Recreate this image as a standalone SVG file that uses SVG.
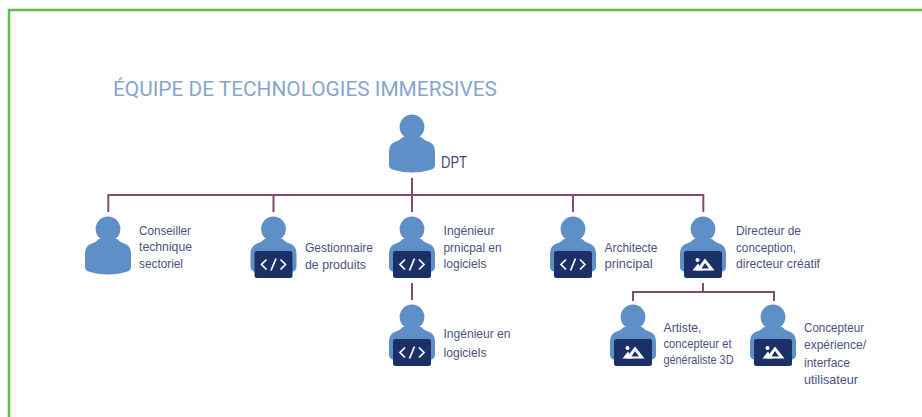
<svg xmlns="http://www.w3.org/2000/svg" width="922" height="417" viewBox="0 0 922 417">
<style>
.t{font-family:"Liberation Sans",Arial,sans-serif;font-size:13.500px;fill:#4a5280}
.d{font-family:"Liberation Sans",Arial,sans-serif;font-size:16px;fill:#414b70}
.c{fill:none;stroke:#86496f;stroke-width:2}
.p{fill:#5f8fc7}
.s{fill:#1c3068}
.g{fill:none;stroke:#fff;stroke-width:1.7}
.w{fill:#fff}
</style>
<defs>
<g id="person"><circle cx="0" cy="12" r="12.400" class="p"/><path class="p" d="M-9 22Q-12 25-15 26Q-23 28-23 37V50Q-23 54-18 55Q0 60 18 55Q23 54 23 50V37Q23 28 15 26Q12 25 9 22Z"/></g>
<g id="code"><use href="#person"/><rect x="-19" y="34" width="38" height="27" rx="2.500" class="s"/><path class="g" d="M-7 42.500L-12 47.500L-7 52.500M7 42.500L12 47.500L7 52.500M2.500 41.500L-2.500 53.500"/></g>
<g id="art"><use href="#person"/><rect x="-19" y="34" width="38" height="27" rx="2.500" class="s"/><path class="w" d="M2 41.500L11.500 53.500H-7Z"/><path d="M2 46L6 51.500H-1.500Z" class="s"/><path class="w" d="M-5 46.500L-0.500 53.500H-10.500Z"/><circle cx="-5.500" cy="43" r="2" class="w"/></g>
</defs>
<rect x="9" y="10" width="930" height="430" fill="#fff" stroke="#63bb4a" stroke-width="2.500"/>
<text x="113" y="96" font-family="Roboto,'Liberation Sans',sans-serif" font-size="20.500" fill="#86a6cd" textLength="384" lengthAdjust="spacingAndGlyphs">ÉQUIPE DE TECHNOLOGIES IMMERSIVES</text>
<g id="connectors">
<path class="c" d="M412 178V212M108.300 212V195H703.300V212M273.500 195V212M573 195V212M412 283V300M703 283V292M633 301V292H774V301"/>
</g>
<g id="n-dpt"><use href="#person" x="412" y="115"/><text class="d" x="441" y="168" textLength="26" lengthAdjust="spacingAndGlyphs">DPT</text></g>
<g id="n-conseiller"><use href="#person" x="108" y="217"/><text class="t" x="139" y="235" textLength="52" lengthAdjust="spacingAndGlyphs">Conseiller</text><text class="t" x="139" y="251" textLength="53" lengthAdjust="spacingAndGlyphs">technique</text><text class="t" x="139" y="268" textLength="44" lengthAdjust="spacingAndGlyphs">sectoriel</text></g>
<g id="n-gestion"><use href="#code" x="273.500" y="217"/><text class="t" x="305" y="252" textLength="68" lengthAdjust="spacingAndGlyphs">Gestionnaire</text><text class="t" x="305" y="269" textLength="61" lengthAdjust="spacingAndGlyphs">de produits</text></g>
<g id="n-principal"><use href="#code" x="412" y="217"/><text class="t" x="443.500" y="235" textLength="51" lengthAdjust="spacingAndGlyphs">Ingénieur</text><text class="t" x="443.500" y="252" textLength="58" lengthAdjust="spacingAndGlyphs">prnicpal en</text><text class="t" x="443.500" y="268" textLength="43" lengthAdjust="spacingAndGlyphs">logiciels</text></g>
<g id="n-ingenieur"><use href="#code" x="412" y="305"/><text class="t" x="443.500" y="338" textLength="67" lengthAdjust="spacingAndGlyphs">Ingénieur en</text><text class="t" x="443.500" y="357" textLength="43" lengthAdjust="spacingAndGlyphs">logiciels</text></g>
<g id="n-architecte"><use href="#code" x="573" y="217"/><text class="t" x="604.500" y="252" textLength="53" lengthAdjust="spacingAndGlyphs">Architecte</text><text class="t" x="604.500" y="268" textLength="48" lengthAdjust="spacingAndGlyphs">principal</text></g>
<g id="n-directeur"><use href="#art" x="703" y="217"/><text class="t" x="736" y="235" textLength="65" lengthAdjust="spacingAndGlyphs">Directeur de</text><text class="t" x="736" y="252" textLength="60" lengthAdjust="spacingAndGlyphs">conception,</text><text class="t" x="736" y="268" textLength="84" lengthAdjust="spacingAndGlyphs">directeur créatif</text></g>
<g id="n-artiste"><use href="#art" x="633" y="305"/><text class="t" x="663.500" y="332" textLength="38" lengthAdjust="spacingAndGlyphs">Artiste,</text><text class="t" x="663.500" y="348" textLength="68" lengthAdjust="spacingAndGlyphs">concepteur et</text><text class="t" x="663.500" y="364" textLength="70" lengthAdjust="spacingAndGlyphs">généraliste 3D</text></g>
<g id="n-concepteur"><use href="#art" x="773" y="305"/><text class="t" x="804" y="332" textLength="60" lengthAdjust="spacingAndGlyphs">Concepteur</text><text class="t" x="804" y="349" textLength="62" lengthAdjust="spacingAndGlyphs">expérience/</text><text class="t" x="804" y="367" textLength="46" lengthAdjust="spacingAndGlyphs">interface</text><text class="t" x="804" y="384" textLength="54" lengthAdjust="spacingAndGlyphs">utilisateur</text></g>
</svg>
